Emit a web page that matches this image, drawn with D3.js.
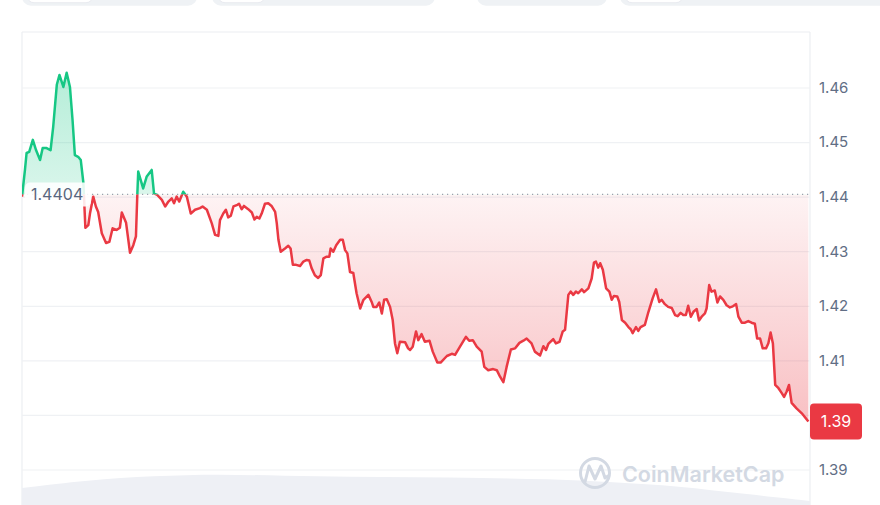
<!DOCTYPE html>
<html>
<head>
<meta charset="utf-8">
<script src="https://cdn.jsdelivr.net/npm/d3@7"></script>
<style>
  html, body { margin: 0; padding: 0; background: #ffffff; }
  svg { display: block; font-family: Inter, "Noto Sans", sans-serif; }
</style>
</head>
<body>
<svg id="chart" width="880" height="505"></svg>
<script>
// ---- data ----
const times = [
  0, 0.09, 0.14, 0.22, 0.33, 0.43, 0.55, 0.63, 0.75, 0.87,
  0.95, 1.06, 1.14, 1.26, 1.36, 1.46, 1.54, 1.61, 1.71, 1.79,
  1.87, 1.93, 2.02, 2.07, 2.17, 2.25, 2.32, 2.43, 2.56, 2.66,
  2.76, 2.88, 2.98, 3.04, 3.17, 3.29, 3.39, 3.47, 3.51, 3.54,
  3.69, 3.80, 3.95, 4.02, 4.12, 4.26, 4.36, 4.46, 4.56, 4.63,
  4.71, 4.79, 4.91, 5.02, 5.14, 5.27, 5.42, 5.50, 5.63, 5.78,
  5.88, 5.98, 6.03, 6.13, 6.21, 6.28, 6.36, 6.44, 6.56, 6.61,
  6.69, 6.76, 6.89, 7.00, 7.08, 7.15, 7.23, 7.30, 7.40, 7.50,
  7.60, 7.71, 7.76, 7.81, 7.88, 8.01, 8.11, 8.18, 8.25, 8.35,
  8.47, 8.57, 8.67, 8.75, 8.82, 8.92, 9.02, 9.10, 9.18, 9.28,
  9.36, 9.40, 9.48, 9.57, 9.69, 9.77, 9.84, 9.91, 9.99, 10.09,
  10.19, 10.30, 10.40, 10.55, 10.65, 10.70, 10.80, 10.88, 10.96, 11.03,
  11.11, 11.21, 11.29, 11.36, 11.43, 11.51, 11.67, 11.76, 11.82, 11.90,
  12.00, 12.07, 12.17, 12.27, 12.41, 12.51, 12.65, 12.75, 12.94, 13.09,
  13.19, 13.34, 13.52, 13.62, 13.73, 13.85, 14.00, 14.08, 14.20, 14.35,
  14.46, 14.56, 14.66, 14.76, 14.89, 15.02, 15.15, 15.27, 15.37, 15.52,
  15.62, 15.78, 15.88, 15.96, 16.03, 16.18, 16.26, 16.37, 16.47, 16.54,
  16.64, 16.71, 16.79, 16.87, 16.94, 17.05, 17.12, 17.25, 17.35, 17.42,
  17.48, 17.55, 17.61, 17.69, 17.79, 17.89, 17.96, 18.03, 18.13, 18.19,
  18.27, 18.37, 18.47, 18.54, 18.60, 18.70, 18.77, 18.84, 18.97, 19.08,
  19.21, 19.31, 19.41, 19.48, 19.58, 19.68, 19.79, 19.89, 19.97, 20.06,
  20.14, 20.22, 20.29, 20.37, 20.45, 20.55, 20.62, 20.70, 20.80, 20.85,
  20.93, 21.00, 21.10, 21.18, 21.26, 21.36, 21.46, 21.56, 21.65, 21.75,
  21.82, 21.92, 22.02, 22.12, 22.22, 22.32, 22.39, 22.48, 22.56, 22.66,
  22.73, 22.80, 22.87, 22.94, 23.04, 23.14, 23.21, 23.29, 23.36, 23.44,
  23.59, 23.75, 23.95
];
const prices = [
  1.4400, 1.4449, 1.4480, 1.4482, 1.4504, 1.4485, 1.4467, 1.4489, 1.4489, 1.4485,
  1.4528, 1.4605, 1.4623, 1.4601, 1.4627, 1.4601, 1.4540, 1.4476, 1.4473, 1.4467,
  1.4425, 1.4343, 1.4348, 1.4369, 1.4400, 1.4382, 1.4372, 1.4333, 1.4315, 1.4317,
  1.4342, 1.4339, 1.4343, 1.4371, 1.4352, 1.4297, 1.4311, 1.4327, 1.4400, 1.4446,
  1.4415, 1.4437, 1.4449, 1.4406, 1.4403, 1.4394, 1.4382, 1.4391, 1.4397, 1.4388,
  1.4400, 1.4391, 1.4409, 1.4400, 1.4369, 1.4376, 1.4379, 1.4382, 1.4376, 1.4351,
  1.4330, 1.4328, 1.4357, 1.4369, 1.4376, 1.4362, 1.4365, 1.4382, 1.4385, 1.4387,
  1.4377, 1.4383, 1.4377, 1.4371, 1.4358, 1.4363, 1.4360, 1.4369, 1.4387, 1.4388,
  1.4383, 1.4372, 1.4351, 1.4321, 1.4299, 1.4305, 1.4310, 1.4305, 1.4275, 1.4275,
  1.4273, 1.4281, 1.4284, 1.4283, 1.4269, 1.4256, 1.4251, 1.4256, 1.4287, 1.4290,
  1.4290, 1.4305, 1.4299, 1.4311, 1.4321, 1.4321, 1.4302, 1.4296, 1.4262, 1.4260,
  1.4223, 1.4195, 1.4211, 1.4220, 1.4207, 1.4198, 1.4198, 1.4206, 1.4186, 1.4211,
  1.4212, 1.4198, 1.4174, 1.4131, 1.4113, 1.4134, 1.4133, 1.4122, 1.4119, 1.4125,
  1.4153, 1.4137, 1.4148, 1.4134, 1.4136, 1.4116, 1.4096, 1.4096, 1.4108, 1.4112,
  1.4110, 1.4125, 1.4143, 1.4136, 1.4137, 1.4125, 1.4116, 1.4088, 1.4082, 1.4084,
  1.4082, 1.4070, 1.4060, 1.4088, 1.4120, 1.4122, 1.4132, 1.4136, 1.4140, 1.4131,
  1.4116, 1.4109, 1.4126, 1.4119, 1.4130, 1.4139, 1.4131, 1.4134, 1.4153, 1.4156,
  1.4220, 1.4226, 1.4220, 1.4226, 1.4223, 1.4230, 1.4225, 1.4232, 1.4250, 1.4279,
  1.4281, 1.4270, 1.4278, 1.4266, 1.4232, 1.4226, 1.4211, 1.4218, 1.4217, 1.4207,
  1.4174, 1.4169, 1.4161, 1.4157, 1.4150, 1.4161, 1.4154, 1.4161, 1.4165, 1.4189,
  1.4214, 1.4230, 1.4207, 1.4211, 1.4203, 1.4198, 1.4196, 1.4183, 1.4181, 1.4187,
  1.4183, 1.4183, 1.4200, 1.4180, 1.4189, 1.4194, 1.4173, 1.4180, 1.4186, 1.4195,
  1.4238, 1.4226, 1.4228, 1.4206, 1.4217, 1.4211, 1.4201, 1.4197, 1.4199, 1.4203,
  1.4180, 1.4169, 1.4169, 1.4172, 1.4169, 1.4167, 1.4140, 1.4140, 1.4122, 1.4122,
  1.4131, 1.4151, 1.4131, 1.4055, 1.4049, 1.4040, 1.4033, 1.4043, 1.4055, 1.4022,
  1.4012, 1.4003, 1.3988
];
const baselinePrice = 1.4404;
const currentPrice = 1.3988;
const priceTicks = [1.39, 1.40, 1.41, 1.42, 1.43, 1.44, 1.45, 1.46];
const volumeTimes = [0, 2, 4, 6, 8, 10, 12, 14, 16, 18, 20, 22, 24];
const volumes = [17, 25, 29, 31, 29, 28, 28, 27, 26, 23, 19, 11, 4];
const watermarkText = "CoinMarketCap";

(function () {
// ---- layout ----
const svg = d3.select("#chart");
const pL = 22, pR = 810, pT = 32, pB = 505;
const n = Math.min(times.length, prices.length);
const data = d3.range(n).map(i => ({ t: times[i], p: prices[i] }));

const x = d3.scaleLinear().domain([0, 24]).range([pL, pR]);
const y = d3.scaleLinear().domain([1.39, 1.46]).range([469.5, 87.5]);
const yv = d3.scaleLinear().domain([0, 35]).range([pB, 470]);
const by = y(baselinePrice);
const cy = y(currentPrice);
const truncFmt = v => (Math.floor(v * 100 + 1e-9) / 100).toFixed(2);

const defs = svg.append("defs");
const gGreen = defs.append("linearGradient").attr("id", "gGreen")
  .attr("gradientUnits", "userSpaceOnUse").attr("x1", 0).attr("x2", 0)
  .attr("y1", y(1.463)).attr("y2", by);
gGreen.append("stop").attr("offset", 0).attr("stop-color", "#16c784").attr("stop-opacity", 0.32);
gGreen.append("stop").attr("offset", 1).attr("stop-color", "#16c784").attr("stop-opacity", 0.16);
const gRed = defs.append("linearGradient").attr("id", "gRed")
  .attr("gradientUnits", "userSpaceOnUse").attr("x1", 0).attr("x2", 0)
  .attr("y1", by).attr("y2", y(1.3985));
gRed.append("stop").attr("offset", 0).attr("stop-color", "#ea3943").attr("stop-opacity", 0.06);
gRed.append("stop").attr("offset", 1).attr("stop-color", "#ea3943").attr("stop-opacity", 0.32);

defs.append("clipPath").attr("id", "cAbove").append("rect")
  .attr("x", pL).attr("y", 0).attr("width", pR - pL).attr("height", by);
defs.append("clipPath").attr("id", "cBelow").append("rect")
  .attr("x", pL).attr("y", by).attr("width", pR - pL).attr("height", pB - by);

// ---- top tabs (partially visible) ----
const tabs = [[22, 197], [212, 435], [477, 607], [620, 890]];
const pills = [[27, 93], [218, 265], [625, 683]];
svg.append("g").selectAll("rect").data(tabs).join("rect")
  .attr("x", d => d[0]).attr("width", d => d[1] - d[0])
  .attr("y", -20).attr("height", 25.7).attr("rx", 9).attr("fill", "#eff2f5");
svg.append("g").selectAll("rect").data(pills).join("rect")
  .attr("x", d => d[0]).attr("width", d => d[1] - d[0])
  .attr("y", -20).attr("height", 22.7).attr("rx", 7)
  .attr("fill", "#ffffff").attr("stroke", "#e3e6ec").attr("stroke-width", 0.8);

// ---- frame ----
const frame = svg.append("g").attr("stroke", "#eceef2").attr("stroke-width", 1.2).attr("fill", "none");
frame.append("line").attr("x1", pL).attr("x2", pR).attr("y1", pT).attr("y2", pT);
frame.append("line").attr("x1", pL).attr("x2", pL).attr("y1", pT).attr("y2", pB);
frame.append("line").attr("x1", pR).attr("x2", pR).attr("y1", pT).attr("y2", pB);

// ---- volume area ----
svg.append("path").datum(volumeTimes.map((t, i) => ({ t, v: volumes[i] })))
  .attr("d", d3.area().x(d => x(d.t)).y0(pB).y1(d => yv(d.v)).curve(d3.curveBasis))
  .attr("fill", "#eef0f5");

// ---- gridlines ----
svg.append("g").attr("transform", `translate(${pL},0)`)
  .call(d3.axisRight(y).tickValues(priceTicks).tickSize(pR - pL).tickFormat(""))
  .call(g => g.select(".domain").remove())
  .call(g => g.selectAll("line").attr("stroke", "#eff1f4").attr("stroke-width", 1.2));

// ---- watermark ----
const wm = svg.append("g").attr("fill", "none").attr("stroke", "#d3d9e3");
wm.append("circle").attr("cx", 595).attr("cy", 473).attr("r", 14.5).attr("stroke-width", 3);
wm.append("path").attr("d", "M585,482 L589,466 L595,479 L601,466 L605,478 L608,476")
  .attr("stroke-width", 3).attr("stroke-linejoin", "round").attr("stroke-linecap", "round");
svg.append("text").attr("x", 622).attr("y", 482).text(watermarkText)
  .attr("font-size", 21.5).attr("font-weight", 600).attr("fill", "#d3d9e3");

// ---- price area and line ----
const area = d3.area().x(d => x(d.t)).y0(by).y1(d => y(d.p));
const line = d3.line().x(d => x(d.t)).y(d => y(d.p));

svg.append("path").datum(data).attr("d", area).attr("fill", "url(#gGreen)").attr("clip-path", "url(#cAbove)");
svg.append("path").datum(data).attr("d", area).attr("fill", "url(#gRed)").attr("clip-path", "url(#cBelow)");

// baseline dotted
svg.append("line").attr("x1", pL).attr("x2", pR).attr("y1", by).attr("y2", by)
  .attr("stroke", "#9aa1ad").attr("stroke-width", 1.2).attr("stroke-dasharray", "1.2,3.8");

svg.append("path").datum(data).attr("d", line).attr("fill", "none")
  .attr("stroke", "#16c784").attr("stroke-width", 2.5).attr("stroke-linejoin", "round")
  .attr("clip-path", "url(#cAbove)");
svg.append("path").datum(data).attr("d", line).attr("fill", "none")
  .attr("stroke", "#ea3943").attr("stroke-width", 2.5).attr("stroke-linejoin", "round")
  .attr("clip-path", "url(#cBelow)");

// baseline label
svg.append("rect").attr("x", 25).attr("y", by - 12).attr("width", 66).attr("height", 24)
  .attr("rx", 5).attr("fill", "#ffffff").attr("fill-opacity", 0.88);
svg.append("text").attr("x", 31).attr("y", by + 1).attr("dominant-baseline", "middle")
  .attr("font-size", 16).attr("fill", "#58667e").text(d3.format(".4f")(baselinePrice));

// ---- right axis labels (the one hidden under the price badge is left out) ----
const labelTicks = priceTicks.filter(v => Math.abs(y(v) - cy) > 20);
svg.append("g").attr("transform", `translate(${pR},0)`)
  .call(d3.axisRight(y).tickValues(labelTicks).tickSize(0).tickPadding(9).tickFormat(d3.format(".2f")))
  .call(g => g.select(".domain").remove())
  .call(g => g.selectAll("text").attr("font-size", 15).attr("fill", "#616e85")
    .attr("font-family", "Inter, 'Noto Sans', sans-serif"));

// ---- current price badge ----
svg.append("rect").attr("x", pR).attr("y", cy - 18).attr("width", 52).attr("height", 36)
  .attr("rx", 4).attr("fill", "#ea3943");
svg.append("text").attr("x", pR + 26).attr("y", cy + 1).attr("text-anchor", "middle")
  .attr("dominant-baseline", "middle").attr("font-size", 16).attr("fill", "#ffffff")
  .text(truncFmt(currentPrice));
})();
</script>
</body>
</html>
